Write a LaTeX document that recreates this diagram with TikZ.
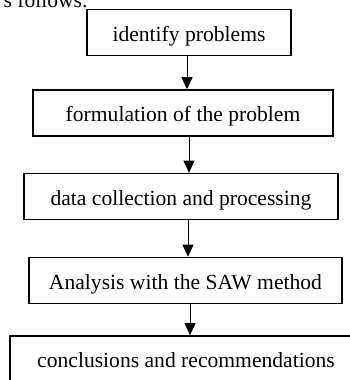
\documentclass[tikz,border=0pt]{standalone}
\usepackage{fontspec}
\setmainfont{Liberation Serif}
\usetikzlibrary{arrows.meta}
\begin{document}
\begin{tikzpicture}[x=1pt, y=-1pt,
    every node/.style={font=\fontsize{21.6}{26}\selectfont},
    stagebox/.style={draw, line width=1.6pt, minimum height=46pt, inner sep=0pt,
        text height=22pt, text depth=5pt},
    flowarrow/.style={line width=0.8pt, -{Triangle[width=11pt,length=12pt]}}]
            \clip (0,0) rectangle (350,380);
            \fill [white] (0,0) rectangle (350,380);

            \node [anchor=base west] (lead) at (0,7) {s follows.};

            \node [stagebox, minimum width=204pt] (identify) at (189,32.5) {identify problems};
            \node [stagebox, minimum width=300pt] (formulate) at (183,113) {formulation of the problem};
            \node [stagebox, minimum width=314pt] (collect) at (181,196.5) {data collection and processing};
            \node [stagebox, minimum width=313pt] (analyse) at (185.5,280.5) {Analysis with the SAW method};
            \node [stagebox, minimum width=352pt] (conclude) at (186,359) {conclusions and recommendations};

            \draw [flowarrow] (identify.south -| 187,0) -- (formulate.north -| 187,0);
            \draw [flowarrow] (formulate.south -| 189,0) -- (collect.north -| 189,0);
            \draw [flowarrow] (collect.south -| 188,0) -- (analyse.north -| 188,0);
            \draw [flowarrow] (analyse.south -| 190,0) -- (conclude.north -| 190,0);

    \end{tikzpicture}
\end{document}
